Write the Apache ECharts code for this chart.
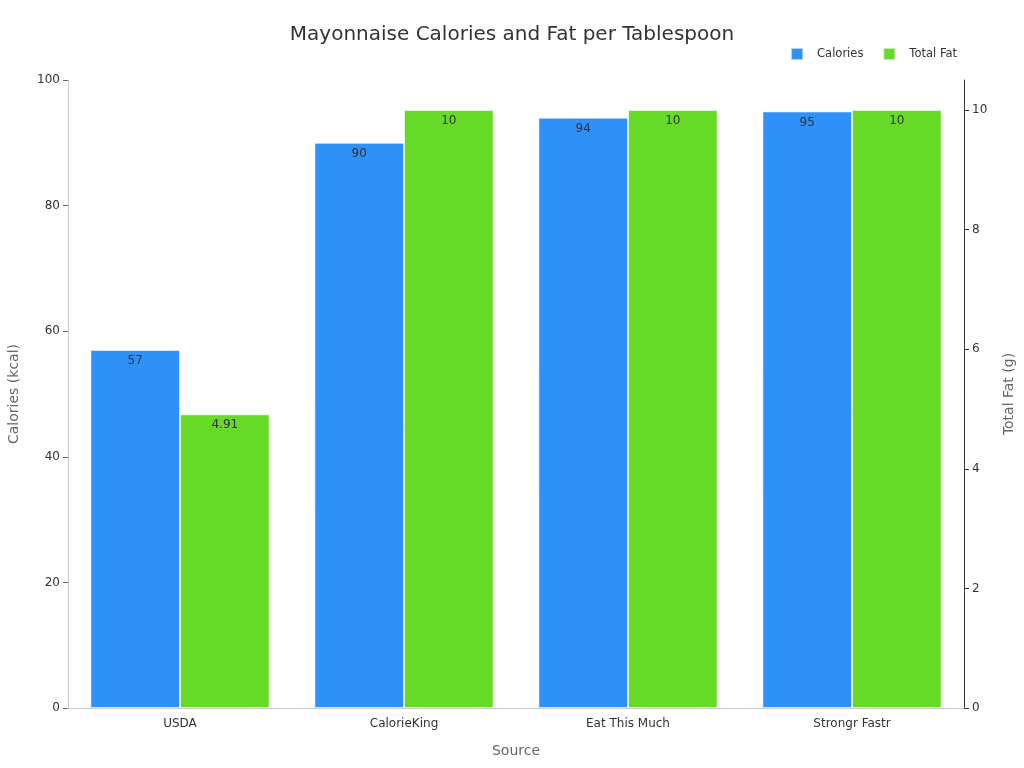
<!DOCTYPE html>
<html><head><meta charset="utf-8">
<script src="https://cdn.jsdelivr.net/npm/echarts@6/dist/echarts.min.js"></script>
<style>html,body{margin:0;padding:0;background:#fff}#c{width:1024px;height:768px}</style>
</head><body><div id="c"></div>
<script>
const categories = ['USDA', 'CalorieKing', 'Eat This Much', 'Strongr Fastr'];
const calories = [57, 90, 94, 95];
const totalFat = [4.91, 10, 10, 10];
const fatTicks = [0, 2, 4, 6, 8, 10];

const chart = echarts.init(document.getElementById('c'));
const font = 'DejaVu Sans';
chart.setOption({
  animation: false,
  textStyle: { fontFamily: font },
  title: {
    text: 'Mayonnaise Calories and Fat per Tablespoon',
    left: 'center', top: 20,
    textStyle: { fontFamily: font, fontSize: 20, fontWeight: 'normal', color: '#333' }
  },
  legend: {
    top: 42, right: 62, itemWidth: 12, itemHeight: 12, itemGap: 19,
    icon: 'rect',
    textStyle: { fontFamily: font, fontSize: 11.5, color: '#333', padding: [0, 0, 0, 9] },
    data: ['Calories', 'Total Fat']
  },
  grid: { left: 68, right: 60, top: 80, bottom: 60, containLabel: false, outerBoundsMode: 'none' },
  xAxis: {
    type: 'category', data: categories,
    name: 'Source', nameLocation: 'middle', nameGap: 36,
    nameTextStyle: { fontFamily: font, fontSize: 14, color: '#666' },
    axisLine: { lineStyle: { color: '#ccc' } },
    axisTick: { alignWithLabel: true, lineStyle: { color: '#666' } },
    axisLabel: { fontFamily: font, fontSize: 12, color: '#333', margin: 10 },
    z: 10
  },
  yAxis: [{
    type: 'value', min: 0, max: 100, interval: 20,
    name: 'Calories (kcal)', nameLocation: 'middle', nameGap: 47,
    nameTextStyle: { fontFamily: font, fontSize: 14, color: '#666' },
    axisLine: { show: true, lineStyle: { color: '#ccc' } },
    axisTick: { show: true, lineStyle: { color: '#666' } },
    axisLabel: { fontFamily: font, fontSize: 12, color: '#333' },
    splitLine: { show: false }
  }, {
    type: 'value', min: 0, max: 10.5,
    name: 'Total Fat (g)', nameLocation: 'middle', nameGap: 38,
    nameTextStyle: { fontFamily: font, fontSize: 14, color: '#666' },
    axisLine: { show: true, lineStyle: { color: '#333' } },
    axisTick: { show: true, customValues: fatTicks, lineStyle: { color: '#333' } },
    axisLabel: { customValues: fatTicks, fontFamily: font, fontSize: 12, color: '#333' },
    splitLine: { show: false }
  }],
  series: [{
    name: 'Calories', type: 'bar', data: calories, yAxisIndex: 0,
    barGap: '0%', barCategoryGap: '20%',
    itemStyle: { color: '#2E91F8', borderColor: 'rgba(255,255,255,0.6)', borderWidth: 1 },
    label: { show: true, position: 'insideTop', fontFamily: font, fontSize: 12, color: '#333' }
  }, {
    name: 'Total Fat', type: 'bar', data: totalFat, yAxisIndex: 1,
    barGap: '0%', barCategoryGap: '20%',
    itemStyle: { color: '#66DA26', borderColor: 'rgba(255,255,255,0.6)', borderWidth: 1 },
    label: { show: true, position: 'insideTop', fontFamily: font, fontSize: 12, color: '#333' }
  }]
});
</script></body></html>
